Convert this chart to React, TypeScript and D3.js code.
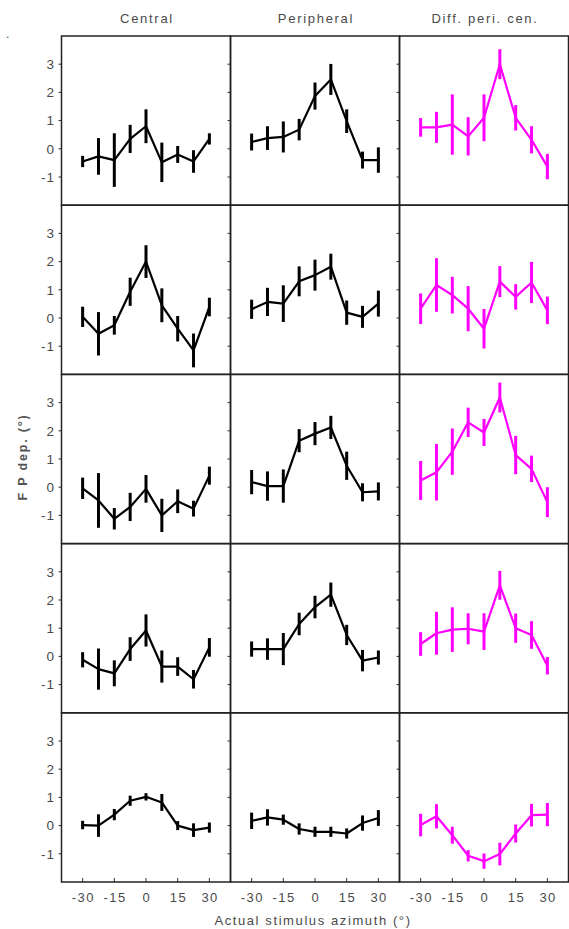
import React from "react";
import * as d3 from "d3";

const azimuths = [-30, -22.5, -15, -7.5, 0, 7.5, 15, 22.5, 30];
const columnTitles = ["Central", "Peripheral", "Diff. peri. cen."];
const xTicks = [-30, -15, 0, 15, 30];
const yTicks = [-1, 0, 1, 2, 3];

const centralMean = [
  [-0.45, -0.27, -0.4, 0.35, 0.8, -0.48, -0.2, -0.45, 0.35],
  [0.04, -0.56, -0.26, 0.93, 2.0, 0.45, -0.38, -1.15, 0.39],
  [-0.04, -0.47, -1.12, -0.7, -0.06, -1.0, -0.5, -0.76, 0.41],
  [-0.12, -0.45, -0.6, 0.26, 0.92, -0.36, -0.36, -0.81, 0.32],
  [0.02, 0.0, 0.39, 0.88, 1.02, 0.82, 0.0, -0.16, -0.07],
];
const centralErr = [
  [0.2, 0.65, 0.95, 0.5, 0.6, 0.7, 0.3, 0.4, 0.2],
  [0.36, 0.77, 0.33, 0.5, 0.58, 0.6, 0.45, 0.6, 0.33],
  [0.38, 0.97, 0.38, 0.5, 0.49, 0.59, 0.42, 0.28, 0.32],
  [0.27, 0.73, 0.46, 0.42, 0.57, 0.57, 0.33, 0.33, 0.33],
  [0.15, 0.4, 0.2, 0.18, 0.13, 0.3, 0.16, 0.24, 0.18],
];
const peripheralMean = [
  [0.24, 0.38, 0.42, 0.68, 1.87, 2.46, 0.98, -0.4, -0.4],
  [0.31, 0.57, 0.51, 1.3, 1.52, 1.82, 0.19, 0.04, 0.51],
  [0.18, 0.04, 0.04, 1.65, 1.9, 2.12, 0.76, -0.18, -0.15],
  [0.26, 0.26, 0.26, 1.15, 1.75, 2.19, 0.76, -0.15, -0.04],
  [0.17, 0.29, 0.21, -0.12, -0.22, -0.22, -0.28, 0.09, 0.27],
];
const peripheralErr = [
  [0.3, 0.42, 0.55, 0.38, 0.48, 0.55, 0.42, 0.3, 0.45],
  [0.34, 0.5, 0.65, 0.53, 0.55, 0.46, 0.43, 0.39, 0.46],
  [0.43, 0.52, 0.59, 0.41, 0.41, 0.41, 0.5, 0.32, 0.32],
  [0.27, 0.38, 0.57, 0.4, 0.4, 0.43, 0.36, 0.38, 0.25],
  [0.29, 0.29, 0.18, 0.2, 0.18, 0.18, 0.18, 0.27, 0.28],
];
const diffMean = [
  [0.76, 0.76, 0.86, 0.44, 1.1, 3.0, 1.1, 0.32, -0.63],
  [0.33, 1.17, 0.81, 0.33, -0.38, 1.29, 0.75, 1.26, 0.27],
  [0.24, 0.53, 1.26, 2.3, 1.94, 3.18, 1.14, 0.65, -0.53],
  [0.44, 0.82, 0.95, 0.98, 0.88, 2.52, 1.0, 0.76, -0.33],
  [0.02, 0.33, -0.34, -1.07, -1.26, -1.01, -0.28, 0.37, 0.39],
];
const diffErr = [
  [0.33, 0.55, 1.07, 0.68, 0.83, 0.53, 0.45, 0.48, 0.45],
  [0.54, 0.95, 0.65, 0.8, 0.7, 0.55, 0.45, 0.73, 0.49],
  [0.69, 1.0, 0.82, 0.52, 0.48, 0.53, 0.68, 0.47, 0.53],
  [0.42, 0.76, 0.79, 0.55, 0.65, 0.51, 0.52, 0.49, 0.31],
  [0.4, 0.43, 0.3, 0.2, 0.27, 0.4, 0.32, 0.4, 0.41],
];

const columns = [
  { mean: centralMean, err: centralErr, color: "#000000" },
  { mean: peripheralMean, err: peripheralErr, color: "#000000" },
  { mean: diffMean, err: diffErr, color: "#ff00ff" },
];

const W = 569;
const H = 929;
const left = 61.5;
const top = 36;
const colW = 169;
const rowH = 169.2;
const font = "'Liberation Sans', Arial, sans-serif";
const textColor = "#4a4a4a";

export default function App() {
  const x = d3.scaleLinear().domain([-40, 40]).range([0, colW]);
  const y = d3.scaleLinear().domain([-2, 4]).range([rowH, 0]);
  const line = d3
    .line<[number, number]>()
    .x((d) => x(d[0]))
    .y((d) => y(d[1]));

  const rows = [0, 1, 2, 3, 4];

  return (
    <svg
      width={W}
      height={H}
      style={{ position: "absolute", left: 0, top: 0, background: "#fff" }}
      fontFamily={font}
    >
      <text x={6} y={38} fontSize={12} fill={textColor}>.</text>
      {columnTitles.map((t, c) => (
        <text
          key={t}
          x={left + c * colW + colW / 2 + 1}
          y={23}
          textAnchor="middle"
          fontSize={13}
          letterSpacing={1.7}
          fill={textColor}
        >
          {t}
        </text>
      ))}
      <text
        transform={`translate(27, ${top + (5 * rowH) / 2 - 2}) rotate(-90)`}
        textAnchor="middle"
        fontSize={12.5}
        fontWeight="bold"
        letterSpacing={1.8}
        fill="#555"
      >
        F P dep. (°)
      </text>
      <text
        x={left + (3 * colW) / 2 - 2}
        y={925}
        textAnchor="middle"
        fontSize={13}
        letterSpacing={1.6}
        fill={textColor}
      >
        Actual stimulus azimuth (°)
      </text>

      {rows.map((r) => (
        <g key={r}>
          {yTicks.map((t) => (
            <text
              key={t}
              x={55}
              y={top + r * rowH + y(t)}
              dy="0.35em"
              textAnchor="end"
              fontSize={13.5}
              letterSpacing={1}
              fill={textColor}
            >
              {t}
            </text>
          ))}
          {columns.map((col, c) => {
            const ox = left + c * colW;
            const oy = top + r * rowH;
            const pts: [number, number][] = azimuths.map((a, i) => [a, col.mean[r][i]]);
            return (
              <g key={c} transform={`translate(${ox},${oy})`}>
                {yTicks.map((t) => (
                  <line key={t} x1={-3} x2={0} y1={y(t)} y2={y(t)} stroke="#333" strokeWidth={1} />
                ))}
                {r === 4 &&
                  xTicks.map((t) => (
                    <line key={t} x1={x(t)} x2={x(t)} y1={rowH} y2={rowH - 4} stroke="#333" strokeWidth={1} />
                  ))}
                <path d={line(pts) || ""} fill="none" stroke={col.color} strokeWidth={2.2} strokeLinejoin="round" />
                {azimuths.map((a, i) => (
                  <line
                    key={i}
                    x1={x(a)}
                    x2={x(a)}
                    y1={y(col.mean[r][i] - col.err[r][i])}
                    y2={y(col.mean[r][i] + col.err[r][i])}
                    stroke={col.color}
                    strokeWidth={3}
                  />
                ))}
                <rect x={0} y={0} width={colW} height={rowH} fill="none" stroke="#222" strokeWidth={1.5} />
              </g>
            );
          })}
        </g>
      ))}

      {xTicks.map((t) =>
        [0, 1, 2].map((c) => (
          <text
            key={`${t}-${c}`}
            x={left + c * colW + x(t) + 0.75}
            y={top + 5 * rowH + 15}
            dy="0.35em"
            textAnchor="middle"
            fontSize={13}
            letterSpacing={1.5}
            fill={textColor}
          >
            {t}
          </text>
        ))
      )}
    </svg>
  );
}
